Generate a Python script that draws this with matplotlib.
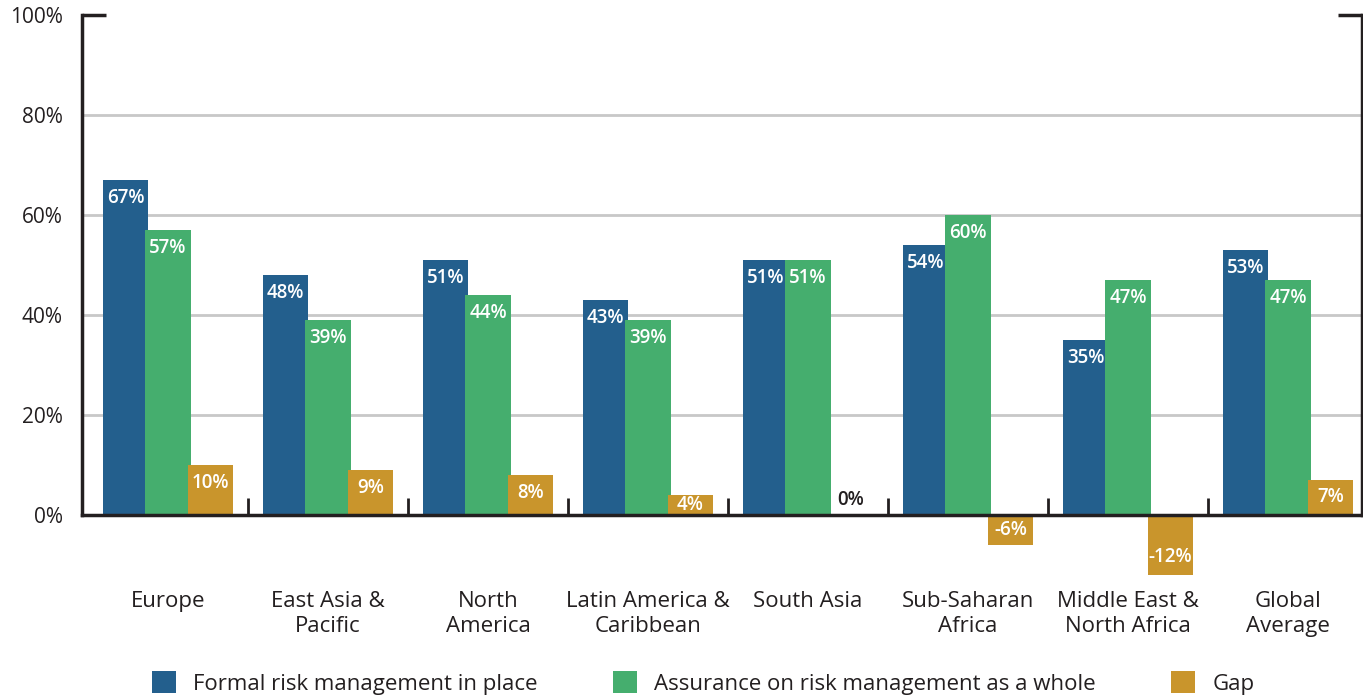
import matplotlib
matplotlib.use('Agg')
import matplotlib.pyplot as plt
from matplotlib.patches import Patch
import numpy as np

plt.rcParams['font.family'] = ['Open Sans', 'DejaVu Sans']

regions = ['Europe', 'East Asia &\nPacific', 'North\nAmerica', 'Latin America &\nCaribbean',
           'South Asia', 'Sub-Saharan\nAfrica', 'Middle East &\nNorth Africa', 'Global\nAverage']
formal = [67, 48, 51, 43, 51, 54, 35, 53]
assurance = [57, 39, 44, 39, 51, 60, 47, 47]
gap = [10, 9, 8, 4, 0, -6, -12, 7]

series_names = ['Formal risk management in place', 'Assurance on risk management as a whole', 'Gap']
colors = ['#235F8D', '#45AE6E', '#C9952C']
dark = '#231F20'

fig = plt.figure(figsize=(13.63, 6.95), dpi=100)
ax = fig.add_axes([82/1363, 105/695, 1280/1363, 575/695])

x = np.arange(len(regions))
step = 0.265
w = 0.285
for k, vals in enumerate([formal, assurance, gap]):
    xs = x + (k - 1) * step
    ax.bar(xs, vals, width=w, color=colors[k], zorder=3 + k * 0.01)
    for xi, v in zip(xs, vals):
        if v == 0:
            ax.text(xi, 3, '0%', ha='center', va='center', color=dark,
                    fontsize=13.5, fontweight='semibold', zorder=4)
            continue
        off = min(3.6, abs(v) / 2)
        yl = v - off if v > 0 else v + off
        ax.text(xi, yl, '%d%%' % v, ha='center', va='center', color='white',
                fontsize=13.5, fontweight='semibold', zorder=4)

ax.set_xlim(-0.5375, 7.4625)
ax.set_ylim(-15, 100)

# grid lines
for g in [20, 40, 60, 80]:
    ax.axhline(g, color='#C8C8C8', lw=2, zorder=1)

ax.spines['top'].set_visible(False)
ax.spines['bottom'].set_position(('data', 0))
ax.spines['left'].set_bounds(0, 100)
ax.spines['right'].set_bounds(0, 100)
for s in ['bottom', 'left', 'right']:
    ax.spines[s].set_color(dark)
    ax.spines[s].set_linewidth(2.5)
    ax.spines[s].set_zorder(5)

# little caps at the top of each side
ax.plot([-0.5375, -0.39], [100, 100], color=dark, lw=2.5, solid_capstyle='butt', clip_on=False)
ax.plot([7.4625, 7.315], [100, 100], color=dark, lw=2.5, solid_capstyle='butt', clip_on=False)

ax.set_yticks([0, 20, 40, 60, 80, 100])
ax.set_yticklabels(['%d%%' % t for t in [0, 20, 40, 60, 80, 100]], fontsize=15, color=dark)
ax.tick_params(axis='y', length=0, pad=14)

ax.set_xticks(x)
ax.set_xticklabels(regions, fontsize=16, color=dark, linespacing=1.2)
ax.tick_params(axis='x', which='major', length=0, pad=55)
ax.set_xticks(x[:-1] + 0.5, minor=True)
ax.tick_params(axis='x', which='minor', direction='in', length=12, width=2, color=dark)

handles = [Patch(facecolor=c, edgecolor='none') for c in colors]
fig.legend(handles, series_names, loc='center left', bbox_to_anchor=(152/1363, 12/695),
           ncol=3, frameon=False, fontsize=16, handlelength=1.08, handleheight=1.08,
           handletextpad=0.77, columnspacing=3.4, borderpad=0, borderaxespad=0,
           labelcolor=dark)

fig.savefig('out.png', dpi=100)
